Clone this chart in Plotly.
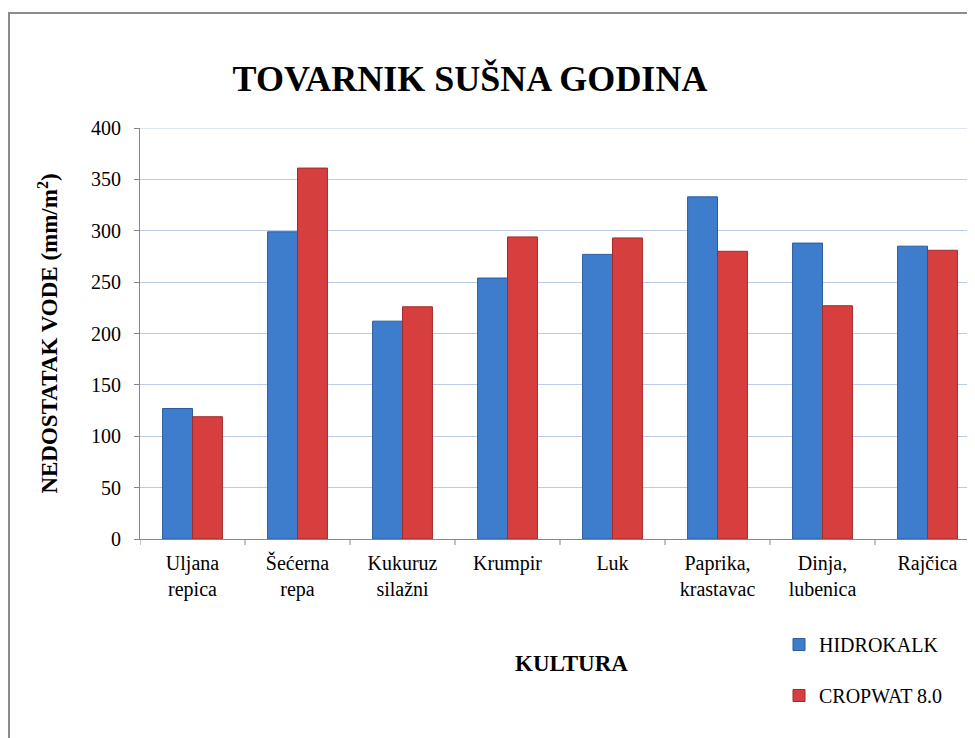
import plotly.graph_objects as go

categories = ["Uljana<br>repica", "Šećerna<br>repa", "Kukuruz<br>silažni", "Krumpir", "Luk",
              "Paprika,<br>krastavac", "Dinja,<br>lubenica", "Rajčica"]
hidrokalk = [127, 299, 212, 254, 277, 333, 288, 285]
cropwat = [119, 361, 226, 294, 293, 280, 227, 281]
y_ticks = [0, 50, 100, 150, 200, 250, 300, 350, 400]

FONT = "Liberation Serif"
W, H = 975, 738
OFF = 8  # page body margin
L, R, T, B = 132, 0, 120, 207
pw, ph = W - L - R, H - T - B

def px(x):  # screenshot x -> paper
    return (x - OFF - L) / pw

def py(y):  # screenshot y -> paper
    return (H - B - (y - OFF)) / ph

fig = go.Figure()
fig.add_trace(go.Bar(
    x=list(range(len(categories))), y=hidrokalk, name="HIDROKALK",
    marker=dict(color="#3d7dcc", line=dict(color="#2b5d9e", width=1)),
    legendgroup="a"))
fig.add_trace(go.Bar(
    x=list(range(len(categories))), y=cropwat, name="CROPWAT 8.0",
    marker=dict(color="#d63f3e", line=dict(color="#a02c2b", width=1)),
    legendgroup="b"))

# the category axis is cropped on the right, as in the reference
cat_px = 105.0
xmax = -0.5 + pw / cat_px

GRID = "#bccbea"

fig.update_layout(
    width=W, height=H,
    margin=dict(l=L, r=R, t=T, b=B, autoexpand=False),
    paper_bgcolor="white", plot_bgcolor="white",
    barmode="group", bargap=0.43, bargroupgap=0,
    font=dict(family=FONT, size=20, color="black"),
    title=dict(text="<b>TOVARNIK SUŠNA GODINA</b>", xref="container",
               x=(470 - OFF) / W, xanchor="center",
               yref="container", y=1 - (78 - OFF) / H, yanchor="middle",
               font=dict(size=36, family=FONT)),
    xaxis=dict(range=[-0.5, xmax], tickmode="array",
               tickvals=list(range(len(categories))), ticktext=categories,
               showline=True, linecolor="#878787", linewidth=1,
               showgrid=False, ticks="", tickfont=dict(size=20, family=FONT),
               ticklabelstandoff=6, zeroline=False),
    yaxis=dict(range=[0, 400], tickvals=y_ticks, showline=True, linecolor="#878787",
               linewidth=1, ticks="outside", ticklen=5, tickcolor="#878787",
               showgrid=True, gridcolor=GRID, gridwidth=1, zeroline=False,
               tickfont=dict(size=20, family=FONT), ticklabelstandoff=9,
               title=dict(text="<b>NEDOSTATAK VODE (mm/m<sup>2</sup>)</b>",
                          font=dict(size=23, family=FONT), standoff=26)),
    legend=dict(x=px(779), xanchor="left", y=py(625), yanchor="top",
                font=dict(size=20, family=FONT), tracegroupgap=22,
                traceorder="grouped", itemwidth=30, bgcolor="rgba(0,0,0,0)"),
    showlegend=True,
)

shapes = []
# top gridline at 400
shapes.append(dict(type="line", xref="paper", yref="y", x0=0, x1=1, y0=400, y1=400,
                   line=dict(color=GRID, width=1), layer="below"))
# category boundary tick marks on the x axis
for i in range(len(categories) + 1):
    xb = i - 0.5
    if xb <= xmax:
        shapes.append(dict(type="line", xref="x", yref="paper", x0=xb, x1=xb,
                           y0=0, y1=-6 / ph, line=dict(color="#878787", width=1)))
# outer chart border
shapes.append(dict(type="rect", xref="paper", yref="paper",
                   x0=px(9), x1=px(W + 40), y0=py(H + 40), y1=py(13),
                   line=dict(color="#8c8c8c", width=2), layer="below"))
fig.update_layout(shapes=shapes)

fig.add_annotation(text="<b>KULTURA</b>", xref="paper", yref="paper",
                   x=px(571), y=py(663), xanchor="center", yanchor="middle",
                   showarrow=False, font=dict(size=23, family=FONT))

fig.write_html("out.html")
